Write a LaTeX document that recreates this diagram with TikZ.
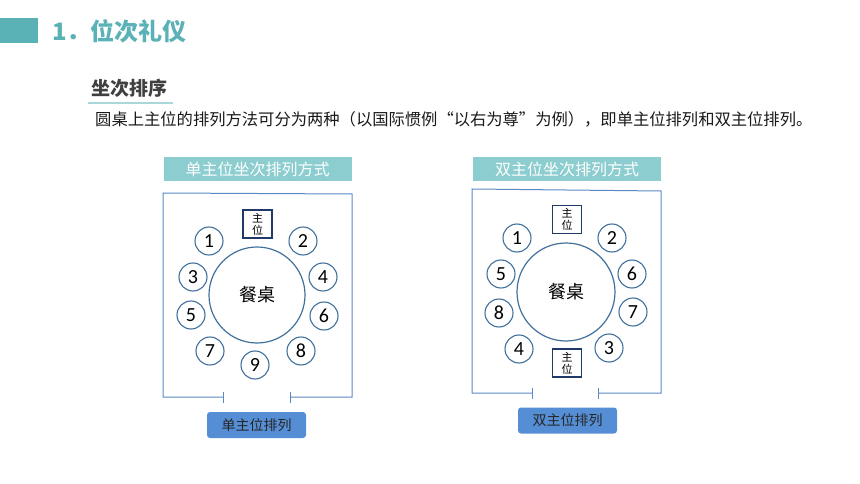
\documentclass[tikz,border=0pt]{standalone}
\usepackage{fontspec}
\setmainfont{Noto Sans CJK SC}
\newfontfamily\digitfont{Carlito}
\usepackage{tikz}
\usetikzlibrary{positioning}
\usetikzlibrary{arrows.meta}
\definecolor{titleteal}{HTML}{5AB2B6}
\definecolor{headfill}{HTML}{8CCDD0}
\definecolor{frameblue}{HTML}{5B87C5}
\definecolor{seatblue}{HTML}{41709C}
\definecolor{navy}{HTML}{1F3A68}
\definecolor{btnblue}{HTML}{558ED5}
\definecolor{undertone}{HTML}{A9D8DA}
\tikzset{seat node/.style={shape=circle, draw=seatblue, line width=1.1pt,
    minimum size=28pt, inner sep=0pt, font=\digitfont\fontsize{20}{20}\selectfont}}
\tikzset{table node/.style={shape=circle, draw=seatblue, line width=1.2pt,
    inner sep=0pt, font=\fontsize{18}{18}\selectfont}}
\tikzset{host node/.style={shape=rectangle, draw=navy, line width=1.8pt,
    minimum width=29pt, minimum height=28pt, inner sep=0pt, align=center,
    font=\fontsize{11}{12}\selectfont}}
\tikzset{head node/.style={shape=rectangle, fill=headfill, text=white,
    minimum width=188pt, minimum height=24pt, inner sep=0pt,
    font=\fontsize{16}{16}\selectfont}}
\tikzset{btn node/.style={shape=rectangle, fill=btnblue, rounded corners=3pt,
    minimum width=99pt, minimum height=26pt, inner sep=0pt,
    text=black!85, font=\fontsize{14}{14}\selectfont}}
\tikzset{frame line/.style={draw=frameblue, line width=1pt,
    {Bar[width=11pt,line width=1pt]}-{Bar[width=11pt,line width=1pt]}}}

\begin{document}
\begin{tikzpicture}[x=1pt,y=-1pt]
    \useasboundingbox (0,0) rectangle (860,484);
    \fill[titleteal] (0,18) rectangle (38,43);
    \node[anchor=west, inner sep=0pt, text=titleteal,
      font=\fontsize{24}{24}\selectfont\bfseries] (title) at (52,31) {1．位次礼仪};
    \node[anchor=west, inner sep=0pt, text=black!75,
      font=\fontsize{19}{19}\selectfont\bfseries] (sub) at (91,88) {坐次排序};
    \draw[undertone, line width=1.5pt] (88,103) -- (173,103);
    \node[anchor=west, inner sep=0pt, text=black!90,
      font=\fontsize{16.3}{16.3}\selectfont] (intro) at (95,119.5)
      {圆桌上主位的排列方法可分为两种（以国际惯例“以右为尊”为例），即单主位排列和双主位排列。};

    % single host
    \node[head node] (ha) at (257.5,169) {单主位坐次排列方式};
    \coordinate (la) at (224,397);
    \coordinate (ra) at (290,397);
    \path[frame line] (la) -- (163,397) -- (163,193) -- (352,194) -- (352,397) -- (ra);
    \node[table node, minimum size=96pt] (ta) at (257,295) {餐桌};
    \node[host node] (pa) at (257.5,224) {主\\位};
    \node[seat node] (a1) at (209,241) {1};
    \node[seat node] (a2) at (303,241) {2};
    \node[seat node] (a3) at (193,277) {3};
    \node[seat node] (a4) at (323,277) {4};
    \node[seat node] (a5) at (191,315) {5};
    \node[seat node] (a6) at (324,316) {6};
    \node[seat node] (a7) at (210,351) {7};
    \node[seat node] (a8) at (301,351) {8};
    \node[seat node] (a9) at (255,365) {9};
    \node[btn node] (ba) at (256.5,425) {单主位排列};

    % double host
    \node[head node] (hb) at (567,169) {双主位坐次排列方式};
    \coordinate (lb) at (533,393);
    \coordinate (rb) at (598,393);
    \path[frame line] (lb) -- (472,393) -- (472,189) -- (661,191) -- (661,393) -- (rb);
    \node[table node, minimum size=98pt] (tb) at (566,292) {餐桌};
    \node[host node] (pb) at (567,219.5) {主\\位};
    \node[host node] (qb) at (567,363) {主\\位};
    \node[seat node] (b1) at (517,238) {1};
    \node[seat node] (b2) at (612,238) {2};
    \node[seat node] (b5) at (501,274) {5};
    \node[seat node] (b6) at (632,274) {6};
    \node[seat node] (b8) at (499,313) {8};
    \node[seat node] (b7) at (633,312) {7};
    \node[seat node] (b4) at (519,349) {4};
    \node[seat node] (b3) at (609,348) {3};
    \node[btn node] (bb) at (567.5,420.5) {双主位排列};
\end{tikzpicture}
\end{document}
